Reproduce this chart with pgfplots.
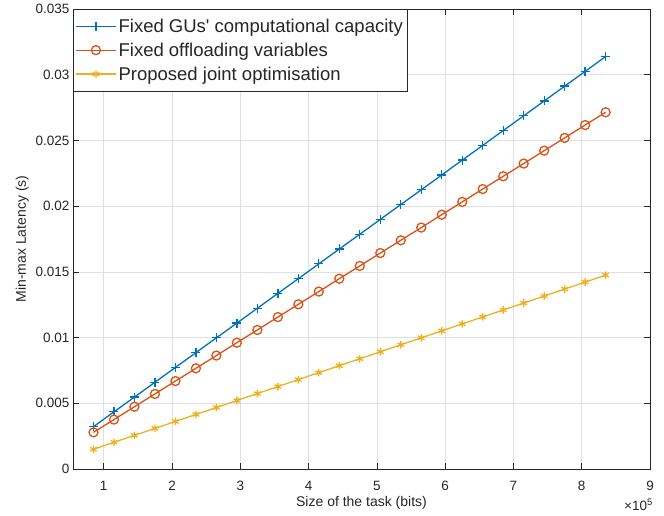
\documentclass[border=0pt]{standalone}
\usepackage{pgfplots}
\pgfplotsset{compat=1.18}
\usepackage{fontspec}
\setmainfont{Liberation Sans}
\definecolor{mblue}{rgb}{0,0.447,0.741}
\definecolor{mred}{rgb}{0.85,0.325,0.098}
\definecolor{myellow}{rgb}{0.929,0.694,0.125}
\definecolor{mgray}{rgb}{0.15,0.15,0.15}
\pgfplotstableread{
x blue red yellow
0.85 0.00322 0.00279 0.00150
1.15 0.00435 0.00376 0.00203
1.45 0.00547 0.00474 0.00256
1.75 0.00660 0.00571 0.00309
2.05 0.00773 0.00669 0.00362
2.35 0.00885 0.00766 0.00415
2.65 0.00998 0.00863 0.00468
2.95 0.01110 0.00961 0.00521
3.25 0.01223 0.01058 0.00574
3.55 0.01336 0.01156 0.00627
3.85 0.01448 0.01253 0.00680
4.15 0.01561 0.01350 0.00733
4.45 0.01674 0.01448 0.00786
4.75 0.01786 0.01545 0.00839
5.05 0.01899 0.01643 0.00892
5.35 0.02012 0.01740 0.00945
5.65 0.02124 0.01837 0.00998
5.95 0.02237 0.01935 0.01051
6.25 0.02350 0.02032 0.01104
6.55 0.02462 0.02130 0.01157
6.85 0.02575 0.02227 0.01210
7.15 0.02687 0.02324 0.01263
7.45 0.02800 0.02422 0.01316
7.75 0.02913 0.02519 0.01369
8.05 0.03025 0.02617 0.01422
8.35 0.03138 0.02714 0.01475
}\datatable
\begin{document}
\begin{tikzpicture}
\begin{axis}[
  scale only axis, width=577pt, height=460pt,
  xmin=0.55, xmax=9, ymin=0, ymax=0.035,
  xtick={1,2,3,4,5,6,7,8,9},
  xticklabels={1,2,3,4,5,6,7,8,9},
  ytick={0,0.005,0.01,0.015,0.02,0.025,0.03,0.035},
  yticklabels={0,0.005,0.01,0.015,0.02,0.025,0.03,0.035},
  scaled y ticks=false,
  tick align=inside,
  major tick length=6pt,
  grid=major,
  grid style={black!12, line width=0.6pt},
  axis line style={mgray, line width=0.6pt},
  tick style={mgray, line width=0.6pt},
  ticklabel style={font=\fontsize{13.5}{15}\selectfont, text=mgray},
  xticklabel shift=9pt,
  label style={font=\fontsize{14}{16}\selectfont, text=mgray},
  xlabel={Size of the task (bits)},
  xlabel style={yshift=2pt},
  ylabel={Min-max Latency (s)},
  ylabel style={yshift=0pt},
  legend cell align=left,
  legend style={at={(0,1)}, anchor=north west, font=\fontsize{18.5}{21}\selectfont,
    draw=mgray, line width=0.6pt, inner xsep=2pt, inner ysep=7.5pt, row sep=5pt, text=black!85},
  legend image code/.code={\draw[mark repeat=2, mark phase=2] plot coordinates {(0pt,0pt) (20pt,0pt) (40pt,0pt)};},
]
\addplot[color=mblue, line width=1.3pt, mark=+, mark size=4.5pt, mark options={line width=1.3pt}] table[x=x, y=blue] {\datatable};
\addlegendentry{Fixed GUs\textquotesingle\ computational capacity}
\addplot[color=mred, line width=1.3pt, mark=o, mark size=4.5pt, mark options={line width=1.3pt}] table[x=x, y=red] {\datatable};
\addlegendentry{Fixed offloading variables}
\addplot[color=myellow, line width=1.3pt, mark=asterisk, mark size=3.8pt, mark options={line width=1.3pt}] table[x=x, y=yellow] {\datatable};
\addlegendentry{Proposed joint optimisation}
\end{axis}
\node[anchor=north east, font=\fontsize{13.5}{15}\selectfont, text=mgray, inner sep=0pt] at ([xshift=3pt,yshift=-30pt]current axis.south east) {×10\textsuperscript{5}};
\path ([shift={(-73pt,-47pt)}]current axis.south west) rectangle ([shift={(14pt,9pt)}]current axis.north east);
\end{tikzpicture}
\end{document}
